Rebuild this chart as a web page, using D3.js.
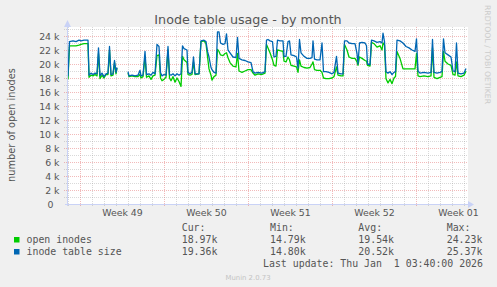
<!DOCTYPE html>
<html>
<head>
<meta charset="utf-8">
<script src="https://cdn.jsdelivr.net/npm/d3@7/dist/d3.min.js"></script>
<style>
  html, body { margin: 0; padding: 0; background: #f0f0f0; }
  svg { display: block; }
  text { font-family: "DejaVu Sans", sans-serif; }
  .mono { font-family: "DejaVu Sans Mono", monospace; white-space: pre; }
</style>
</head>
<body>
<div id="chart"></div>
<script>
// Inode table usage - by month (Munin)

// hours since Mon 1 Dec 2025 00:00 UTC
const sampleHours = [
  -26, -24, -21, -14, -8, -2, 2, 8, 16, 18,
  22, 26, 30, 34, 37, 40, 44, 48, 52, 56,
  59, 62, 66, 69, 72, 74, 76, 94, 96, 98,
  104, 110, 116, 120, 122, 126, 130, 133, 138, 142,
  146, 150, 154, 158, 161, 164, 168, 172, 176, 179,
  182, 186, 190, 194, 198, 202, 205, 208, 214, 216,
  220, 224, 227, 230, 238, 242, 248, 252, 255, 258,
  262, 264, 268, 272, 275, 278, 281, 286, 290, 293,
  296, 300, 306, 312, 315, 318, 324, 330, 336, 342,
  346, 350, 356, 364, 370, 373, 376, 380, 385, 388,
  392, 395, 400, 406, 408, 412, 416, 419, 422, 428,
  433, 436, 439, 442, 448, 454, 460, 464, 466, 469,
  474, 480, 484, 487, 492, 498, 504, 508, 513, 516,
  522, 526, 529, 534, 538, 544, 550, 554, 556, 559,
  564, 570, 573, 575, 580, 583, 588, 594, 600, 604,
  606, 609, 612, 616, 620, 624, 628, 631, 634, 640,
  646, 652, 658, 664, 670, 673, 676, 680, 688, 696,
  702, 705, 708, 714, 720, 724, 727, 730, 736, 742,
  746, 750, 753, 756, 762, 768, 772
];

// inode table size, thousands
const tableSize = [
  18.4, 18.3, 23.2, 23.3, 23.2, 23.4, 23.3, 23.4, 23.4, 18.4,
  18.7, 18.5, 18.7, 18.6, 22.3, 18.3, 18.7, 18.2, 18.6, 18.7,
  22.5, 18.5, 18.6, 20.5, 18.8, 19.5, null, null, 18.9, 18.3,
  18.4, 18.3, 18.4, 19.1, 18.3, 18.4, 21.8, 18.5, 18.6, 18.4,
  18.8, 18.6, 22.8, 22.5, 18.8, 18.3, 18.5, 18.4, 22.5, 18.5,
  18.4, 18.6, 18.3, 18.6, 18.4, 18.6, 22.6, 22.2, 22.0, 18.8,
  18.6, 18.8, 21.0, 18.6, 18.6, 23.3, 23.4, 23.2, 21.8, 21.0,
  19.5, 19.2, 18.8, 18.7, 24.6, 24.6, 23.0, 22.8, 22.9, 24.3,
  22.0, 21.6, 21.0, 20.9, 23.8, 20.8, 20.6, 20.5, 20.3, 20.2,
  18.9, 18.7, 18.8, 18.7, 18.9, 23.4, 23.5, 23.3, 23.2, 21.0,
  21.1, 23.4, 23.3, 23.3, 21.1, 21.1, 23.2, 23.3, 21.3, 21.2,
  21.0, 19.4, 23.5, 21.6, 21.1, 20.8, 20.8, 20.9, 23.3, 20.7,
  20.6, 20.6, 23.0, 18.9, 18.9, 18.8, 18.6, 18.8, 21.1, 18.7,
  18.6, 18.6, 23.3, 23.3, 23.0, 22.9, 22.9, 21.5, 20.0, 23.0,
  23.1, 23.0, 22.6, 20.0, 19.9, 23.4, 23.3, 23.1, 23.2, 23.0,
  24.4, 23.2, 18.9, 18.7, 18.9, 18.5, 18.8, 18.9, 23.4, 23.3,
  23.0, 22.5, 22.3, 22.0, 21.8, 23.6, 19.0, 18.7, 18.8, 18.7,
  18.8, 23.5, 18.8, 18.7, 18.8, 18.9, 23.6, 21.6, 21.3, 21.0,
  19.0, 18.9, 23.0, 18.7, 18.6, 18.7, 19.36
];

// open inodes, thousands
const openInodes = [
  18.0, 17.9, 22.6, 22.6, 22.6, 22.7, 22.8, 22.9, 22.9, 18.1,
  18.4, 18.3, 18.5, 18.3, 21.5, 17.9, 18.4, 18.0, 18.5, 18.5,
  22.0, 18.3, 18.4, 20.2, 18.6, 19.4, null, null, 18.7, 18.2,
  18.3, 18.2, 18.2, 18.5, 18.0, 18.2, 21.0, 18.1, 18.3, 17.8,
  18.3, 18.4, 21.2, 21.3, 18.0, 17.6, 17.8, 18.1, 22.0, 18.0,
  17.6, 18.2, 17.4, 18.0, 17.5, 16.8, 21.1, 20.6, 20.2, 18.5,
  18.4, 18.5, 20.3, 18.5, 18.6, 23.2, 23.3, 22.9, 21.1, 19.3,
  18.4, 17.7, 18.2, 18.4, 22.1, 21.8, 21.3, 21.2, 21.5, 21.6,
  20.9, 20.2, 19.7, 19.6, 21.5, 19.0, 18.8, 19.0, 19.2, 19.2,
  18.7, 18.4, 18.6, 18.5, 18.7, 22.8, 22.3, 21.6, 20.6, 19.8,
  19.7, 22.0, 21.9, 21.8, 20.4, 20.3, 21.0, 20.6, 19.8, 19.7,
  19.6, 18.8, 20.6, 19.7, 19.5, 19.4, 19.5, 20.0, 20.3, 19.2,
  19.1, 19.1, 18.8, 18.0, 17.9, 17.9, 18.0, 18.2, 19.6, 18.4,
  18.3, 18.3, 22.8, 22.0, 21.0, 20.8, 20.8, 20.3, 19.8, 21.0,
  20.8, 20.5, 20.4, 19.8, 19.7, 23.1, 22.9, 22.4, 22.6, 22.0,
  23.0, 22.7, 17.9, 17.3, 17.8, 17.2, 18.0, 18.2, 21.8, 20.8,
  19.3, 19.3, 19.3, 19.3, 19.3, 21.5, 18.3, 18.2, 18.3, 18.2,
  18.3, 22.3, 18.1, 17.9, 18.1, 18.2, 21.8, 20.4, 20.0, 19.8,
  18.5, 18.4, 20.3, 18.3, 18.2, 18.4, 18.97
];

const seriesNames = ['open inodes', 'inode table size'];
const seriesColors = ['#00cc00', '#0066b3'];
const legendHeads = ['Cur:', 'Min:', 'Avg:', 'Max:'];
const legendStats = [
  ['18.97k', '14.79k', '19.54k', '24.23k'],
  ['19.36k', '14.80k', '20.52k', '25.37k']
];
const yTickValues = d3.range(0, 24001, 2000);

const width = 497, height = 287;
const plot = { left: 67, right: 467, top: 27, bottom: 204 };
const textColor = '#555555';
const minorGrid = 'rgba(150,150,150,0.36)';
const majorGrid = 'rgba(225,90,90,0.42)';

const svg = d3.select('#chart').append('svg')
  .attr('width', width)
  .attr('height', height);

svg.append('rect')
  .attr('width', width).attr('height', height)
  .attr('fill', '#f0f0f0');

const dec1 = Date.UTC(2025, 11, 1);
const x = d3.scaleUtc()
  .domain([new Date(dec1 - 26 * 3600e3), new Date(dec1 + 774 * 3600e3)])
  .range([plot.left, plot.right]);

const y = d3.scaleLinear()
  .domain([0, 24000])
  .range([plot.bottom, 36]);

// canvas
svg.append('rect')
  .attr('x', plot.left).attr('y', plot.top)
  .attr('width', plot.right - plot.left + 1)
  .attr('height', plot.bottom - plot.top)
  .attr('fill', '#ffffff');

// vertical grid (days, weeks in red)
const xGrid = svg.append('g')
  .attr('transform', `translate(0,${plot.bottom + 2})`)
  .call(d3.axisBottom(x)
    .ticks(d3.utcDay.every(1))
    .tickSize(-(plot.bottom + 2 - plot.top))
    .tickFormat(''));
xGrid.select('.domain').remove();
xGrid.selectAll('.tick line')
  .attr('stroke', d => d.getUTCDay() === 1 ? majorGrid : minorGrid)
  .attr('stroke-dasharray', '1,1');

// horizontal grid
const yGrid = svg.append('g')
  .attr('transform', `translate(${plot.left - 3},0)`)
  .call(d3.axisLeft(y)
    .tickValues(d3.range(1000, 25001, 1000))
    .tickSize(-(plot.right + 1 - plot.left + 3))
    .tickFormat(''));
yGrid.select('.domain').remove();
yGrid.selectAll('.tick line')
  .attr('stroke', d => d % 2000 === 0 ? majorGrid : minorGrid)
  .attr('stroke-dasharray', '1,1');

// series
const points = sampleHours.map((h, i) => ({
  t: new Date(dec1 + h * 3600e3),
  open: openInodes[i] == null ? null : openInodes[i] * 1000,
  size: tableSize[i] == null ? null : tableSize[i] * 1000
}));

['open', 'size'].forEach((key, i) => {
  const line = d3.line()
    .defined(d => d[key] != null)
    .x(d => x(d.t))
    .y(d => y(d[key]));
  svg.append('path')
    .datum(points)
    .attr('d', line)
    .attr('fill', 'none')
    .attr('stroke', seriesColors[i])
    .attr('stroke-width', 1.3)
    .attr('stroke-linejoin', 'round');
});

// axes lines and arrows
const axisColor = '#c9d2f6';
svg.append('line')
  .attr('x1', plot.left + 0.5).attr('x2', plot.left + 0.5)
  .attr('y1', plot.bottom + 2).attr('y2', 24)
  .attr('stroke', axisColor);
svg.append('line')
  .attr('x1', plot.left - 2).attr('x2', plot.right + 2)
  .attr('y1', plot.bottom + 0.5).attr('y2', plot.bottom + 0.5)
  .attr('stroke', axisColor);
svg.append('path')
  .attr('d', `M${plot.left - 3},27 L${plot.left + 0.5},20 L${plot.left + 4},27 Z`)
  .attr('fill', axisColor);
svg.append('path')
  .attr('d', `M${plot.right + 1},${plot.bottom - 3} L${plot.right + 7},${plot.bottom + 0.5} L${plot.right + 1},${plot.bottom + 4} Z`)
  .attr('fill', axisColor);

// y labels
const yAxis = svg.append('g')
  .attr('transform', `translate(${plot.left},0)`)
  .call(d3.axisLeft(y)
    .tickValues(yTickValues)
    .tickSize(0)
    .tickPadding(7.5)
    .tickFormat(d => d === 0 ? '0\u00a0\u00a0' : (d / 1000) + ' k'));
yAxis.select('.domain').remove();
yAxis.selectAll('text')
  .attr('font-family', '"DejaVu Sans", sans-serif')
  .attr('font-size', '9.4px')
  .attr('fill', textColor);

// x labels: week names centred on each week
const mondays = d3.utcMonday.range(x.domain()[0], x.domain()[1]);
const weekFmt = d3.utcFormat('%V');
const xAxis = svg.append('g')
  .attr('transform', `translate(0,${plot.bottom})`)
  .call(d3.axisBottom(x)
    .tickValues(mondays.map(d => d3.utcHour.offset(d, 84)))
    .tickSize(0)
    .tickPadding(5.3)
    .tickFormat(d => 'Week ' + weekFmt(d3.utcHour.offset(d, -84))));
xAxis.select('.domain').remove();
xAxis.selectAll('text')
  .attr('font-family', '"DejaVu Sans", sans-serif')
  .attr('font-size', '9.4px')
  .attr('fill', textColor);

// title
svg.append('text')
  .attr('x', 248).attr('y', 24)
  .attr('text-anchor', 'middle')
  .attr('font-size', '12.7px')
  .attr('fill', textColor)
  .text('Inode table usage - by month');

// y title
svg.append('text')
  .attr('transform', 'translate(14.5,125) rotate(-90)')
  .attr('text-anchor', 'middle')
  .attr('font-size', '9.8px')
  .attr('fill', textColor)
  .text('number of open inodes');

// watermark
svg.append('text')
  .attr('transform', 'translate(485,5) rotate(90)')
  .attr('font-size', '7.7px')
  .attr('fill', '#cccccc')
  .text('RRDTOOL / TOBI OETIKER');

// legend
const colX = [181.7, 270, 358.3, 446.7];
svg.append('g').selectAll('text')
  .data(legendHeads)
  .join('text')
  .attr('class', 'mono')
  .attr('x', (d, i) => colX[i]).attr('y', 231)
  .attr('font-size', '9.9px')
  .attr('fill', textColor)
  .text(d => d);

seriesNames.forEach((name, r) => {
  const rowY = 243 + r * 12;
  svg.append('rect')
    .attr('x', 14).attr('y', rowY - 6)
    .attr('width', 5.5).attr('height', 5.5)
    .attr('fill', seriesColors[r]);
  svg.append('text')
    .attr('class', 'mono')
    .attr('x', 26.5).attr('y', rowY)
    .attr('font-size', '9.9px')
    .attr('fill', textColor)
    .text(name);
  legendStats[r].forEach((v, c) => {
    svg.append('text')
      .attr('class', 'mono')
      .attr('x', colX[c]).attr('y', rowY)
      .attr('font-size', '9.9px')
      .attr('fill', textColor)
      .text(v);
  });
});

svg.append('text')
  .attr('class', 'mono')
  .attr('x', 483).attr('y', 267)
  .attr('text-anchor', 'end')
  .attr('font-size', '9.9px')
  .attr('fill', textColor)
  .text('Last update: Thu Jan  1 03:40:00 2026');

svg.append('text')
  .attr('x', 248).attr('y', 279.5)
  .attr('text-anchor', 'middle')
  .attr('font-size', '6.9px')
  .attr('fill', '#c4c4c4')
  .text('Munin 2.0.73');
</script>
</body>
</html>
